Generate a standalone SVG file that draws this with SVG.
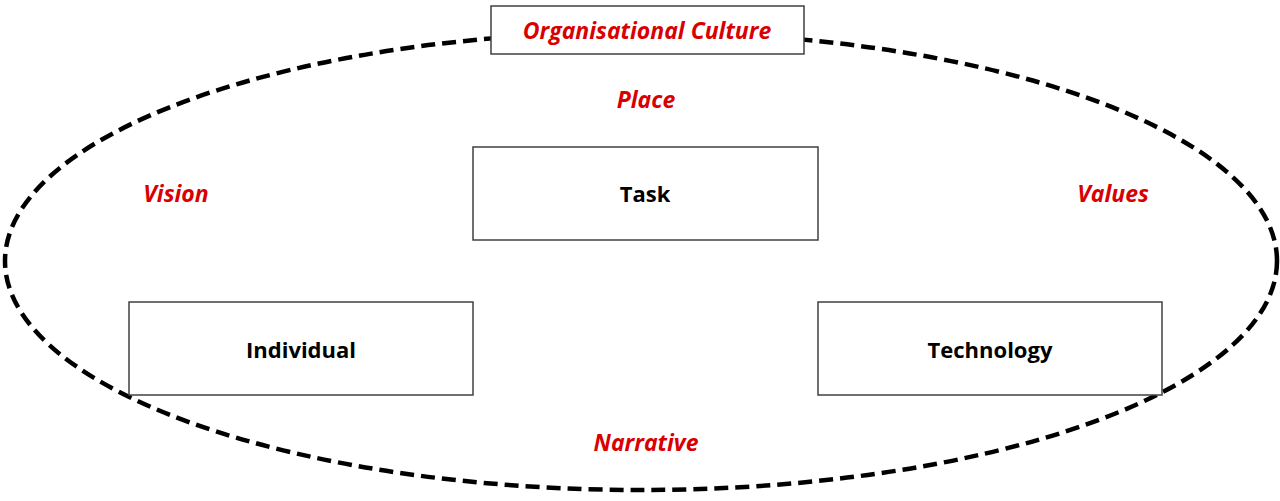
<svg xmlns="http://www.w3.org/2000/svg" width="1280" height="501" viewBox="0 0 1280 501">
<style>
.box{fill:#fff;stroke:#404040;stroke-width:1.5}
.lbl{font-family:"Open Sans","Liberation Sans",sans-serif;font-weight:bold;font-size:22px;fill:#000;text-anchor:middle}
.red{font-family:"Open Sans","Liberation Sans",sans-serif;font-weight:bold;font-style:italic;font-size:23px;fill:#d90000;text-anchor:middle}
</style>
<rect width="1280" height="501" fill="#fff"/>
<g id="connectors">
<ellipse id="culture-boundary" cx="641" cy="261" rx="636" ry="229" fill="none" stroke="#000" stroke-width="4.5" stroke-dasharray="14,7"/>
</g>
<g id="node-culture">
<rect class="box" x="491" y="6" width="313" height="48"/>
<text class="red" x="647" y="39">Organisational Culture</text>
</g>
<g id="node-place"><text class="red" x="646" y="108">Place</text></g>
<g id="node-vision"><text class="red" x="176" y="202">Vision</text></g>
<g id="node-values"><text class="red" x="1113" y="202">Values</text></g>
<g id="node-narrative"><text class="red" x="646" y="451">Narrative</text></g>
<g id="node-task">
<rect class="box" x="473" y="147" width="345" height="93"/>
<text class="lbl" x="645" y="202">Task</text>
</g>
<g id="node-individual">
<rect class="box" x="129" y="302" width="344" height="93"/>
<text class="lbl" x="301" y="358">Individual</text>
</g>
<g id="node-technology">
<rect class="box" x="818" y="302" width="344" height="93"/>
<text class="lbl" x="990" y="358">Technology</text>
</g>
</svg>
